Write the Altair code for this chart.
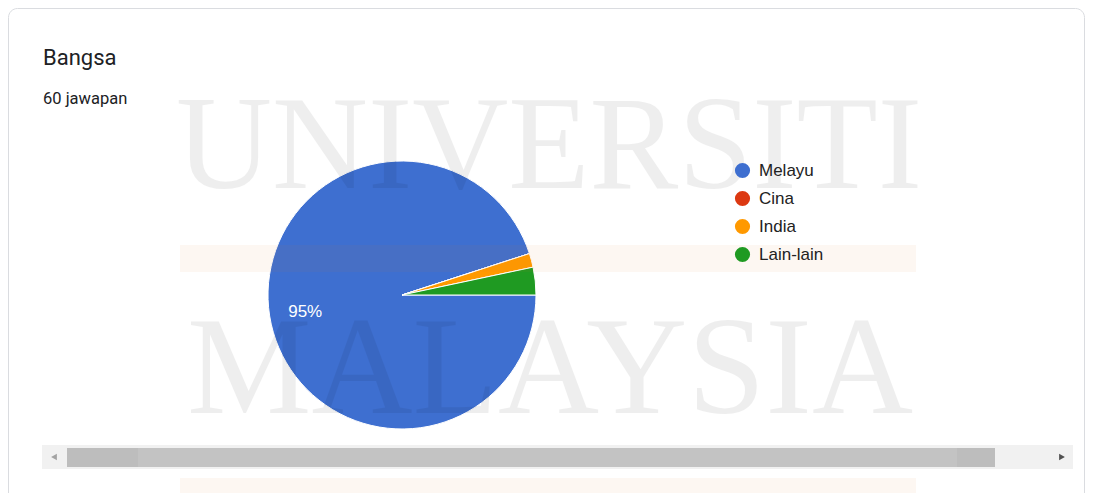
import math
import altair as alt
import pandas as pd

# ---- data ----
categories = ["Melayu", "Cina", "India", "Lain-lain"]
counts = [57, 0, 1, 2]
colors = ["#3e6fd0", "#dc3912", "#ff9900", "#1f9a22"]
total_responses = 60
title_text = "Bangsa"
subtitle_text = "60 jawapan"
watermark_lines = ["UNIVERSITI", "MALAYSIA"]

df = pd.DataFrame({"bangsa": categories, "n": counts, "idx": list(range(len(categories)))})
one = pd.DataFrame({"k": [0]})

W, H = 1077, 485
CX, CY, R = 394, 287, 134

# card background / border
card = alt.Chart(one).mark_rect(
    fill="white", stroke="#dadce0", strokeWidth=1, cornerRadius=9
).encode(x=alt.value(0.5), x2=alt.value(W - 0.5), y=alt.value(0.5), y2=alt.value(H + 40))

theta = alt.Theta("n:Q", stack=True,
                  scale=alt.Scale(range=[math.pi / 2, math.pi / 2 + 2 * math.pi]))
order = alt.Order("idx:Q", sort="ascending")

pie = alt.Chart(df).mark_arc(outerRadius=R, stroke="white", strokeWidth=1).encode(
    theta=theta,
    order=order,
    x=alt.value(CX),
    y=alt.value(CY),
    color=alt.Color(
        "bangsa:N",
        sort=categories,
        scale=alt.Scale(domain=categories, range=colors),
        legend=alt.Legend(
            title=None, orient="none", legendX=726, legendY=154,
            symbolType="circle", symbolSize=230, symbolStrokeWidth=0,
            labelFont="Liberation Sans", labelFontSize=17, labelColor="#222222",
            labelOffset=8, rowPadding=10, padding=0,
        ),
    ),
)

labels = alt.Chart(df).transform_calculate(
    lbl=f"datum.n / {total_responses} >= 0.05 ? format(datum.n / {total_responses}, '.0%') : ''"
).mark_text(radius=98, font="Liberation Sans", fontSize=17, color="white",
            baseline="middle", align="center", dy=2).encode(
    theta=theta, order=order, x=alt.value(CX), y=alt.value(CY), text="lbl:N"
)

title = alt.Chart(one).mark_text(
    text=title_text, font="Roboto", fontSize=22, color="#202124", align="left", baseline="alphabetic"
).encode(x=alt.value(35), y=alt.value(57))
subtitle = alt.Chart(one).mark_text(
    text=subtitle_text, font="Roboto", fontSize=16.5, color="#202124", align="left", baseline="alphabetic"
).encode(x=alt.value(35), y=alt.value(96))

wm1 = alt.Chart(one).mark_text(
    text=watermark_lines[0], font="Liberation Serif", fontSize=133, color="#000000",
    opacity=0.062, align="center", baseline="alphabetic"
).encode(x=alt.value(541), y=alt.value(180))
wm2 = alt.Chart(one).mark_text(
    text=watermark_lines[1], font="Liberation Serif", fontSize=140, color="#000000",
    opacity=0.062, align="center", baseline="alphabetic"
).encode(x=alt.value(542), y=alt.value(405))

band1 = alt.Chart(one).mark_rect(color="#e07a20", opacity=0.06).encode(
    x=alt.value(172), x2=alt.value(908), y=alt.value(237), y2=alt.value(264))
band2 = alt.Chart(one).mark_rect(color="#e07a20", opacity=0.06).encode(
    x=alt.value(172), x2=alt.value(908), y=alt.value(470), y2=alt.value(H))

track = alt.Chart(one).mark_rect(color="#f1f1f1").encode(
    x=alt.value(34), x2=alt.value(1065), y=alt.value(437), y2=alt.value(461))
thumb = alt.Chart(one).mark_rect(color="#bdbdbd").encode(
    x=alt.value(59), x2=alt.value(987), y=alt.value(440), y2=alt.value(459))
thumb_mid = alt.Chart(one).mark_rect(color="#c3c3c3").encode(
    x=alt.value(130), x2=alt.value(949), y=alt.value(440), y2=alt.value(459))
arr_l = alt.Chart(one).mark_point(shape="triangle-left", filled=True, color="#a3a3a3", size=45, opacity=1).encode(
    x=alt.value(46), y=alt.value(449))
arr_r = alt.Chart(one).mark_point(shape="triangle-right", filled=True, color="#505050", size=45, opacity=1).encode(
    x=alt.value(1054), y=alt.value(449))

chart = alt.layer(
    card, pie, labels, title, subtitle, wm1, wm2, band1, band2,
    track, thumb, thumb_mid, arr_l, arr_r
).properties(
    width=W, height=H, padding=0, autosize=alt.AutoSizeParams(type="none"), background="white"
).configure_view(stroke=None)

chart.save("out.html", embed_options={"renderer": "svg", "actions": False})
